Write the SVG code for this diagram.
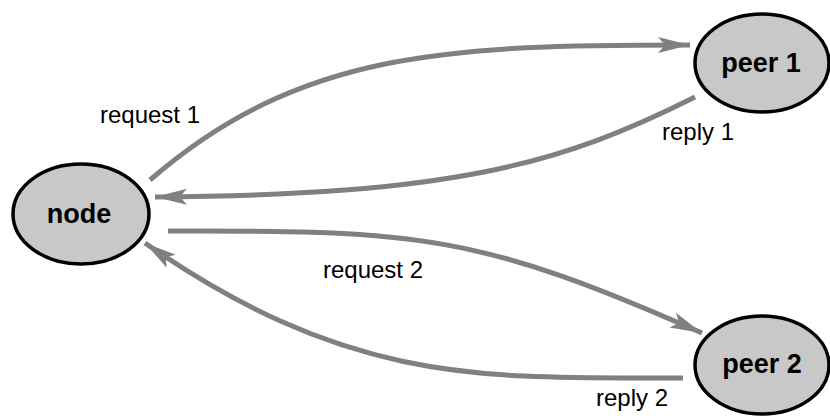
<svg xmlns="http://www.w3.org/2000/svg" width="830" height="418" viewBox="0 0 830 418">
<style>
.n{fill:#c8c8c8;stroke:#000;stroke-width:3.5}
.nt{font-family:"Liberation Sans",Arial,sans-serif;font-weight:bold;font-size:27px;fill:#000;text-anchor:middle}
.e{fill:none;stroke:#808080;stroke-width:5}
.lt{font-family:"Liberation Sans",Arial,sans-serif;font-size:24px;fill:#000;text-anchor:middle}
</style>
<defs>
<marker id="a" markerUnits="userSpaceOnUse" markerWidth="34" markerHeight="20" refX="32" refY="10" orient="auto">
<path d="M0,2 L32,10 L0,18 L7,10 Z" fill="#808080"/>
</marker>
</defs>
<g id="connectors">
<path class="e" d="M150,180 C300,50 450,45 690,45" marker-end="url(#a)"/>
<path class="e" d="M695,97 C560,165 450,195 155,197" marker-end="url(#a)"/>
<path class="e" d="M168,231 C420,230 480,235 702,333" marker-end="url(#a)"/>
<path class="e" d="M683,378 C480,378 350,385 145,243" marker-end="url(#a)"/>
<text class="lt" x="150" y="123">request 1</text>
<text class="lt" x="698" y="140">reply 1</text>
<text class="lt" x="373" y="278">request 2</text>
<text class="lt" x="632" y="406">reply 2</text>
</g>
<g id="node"><ellipse class="n" cx="81" cy="214" rx="68" ry="50"/><text class="nt" x="79" y="223">node</text></g>
<g id="peer1"><ellipse class="n" cx="762" cy="63" rx="67" ry="49"/><text class="nt" x="761" y="72">peer 1</text></g>
<g id="peer2"><ellipse class="n" cx="762" cy="365" rx="67" ry="49"/><text class="nt" x="762" y="373">peer 2</text></g>
</svg>
